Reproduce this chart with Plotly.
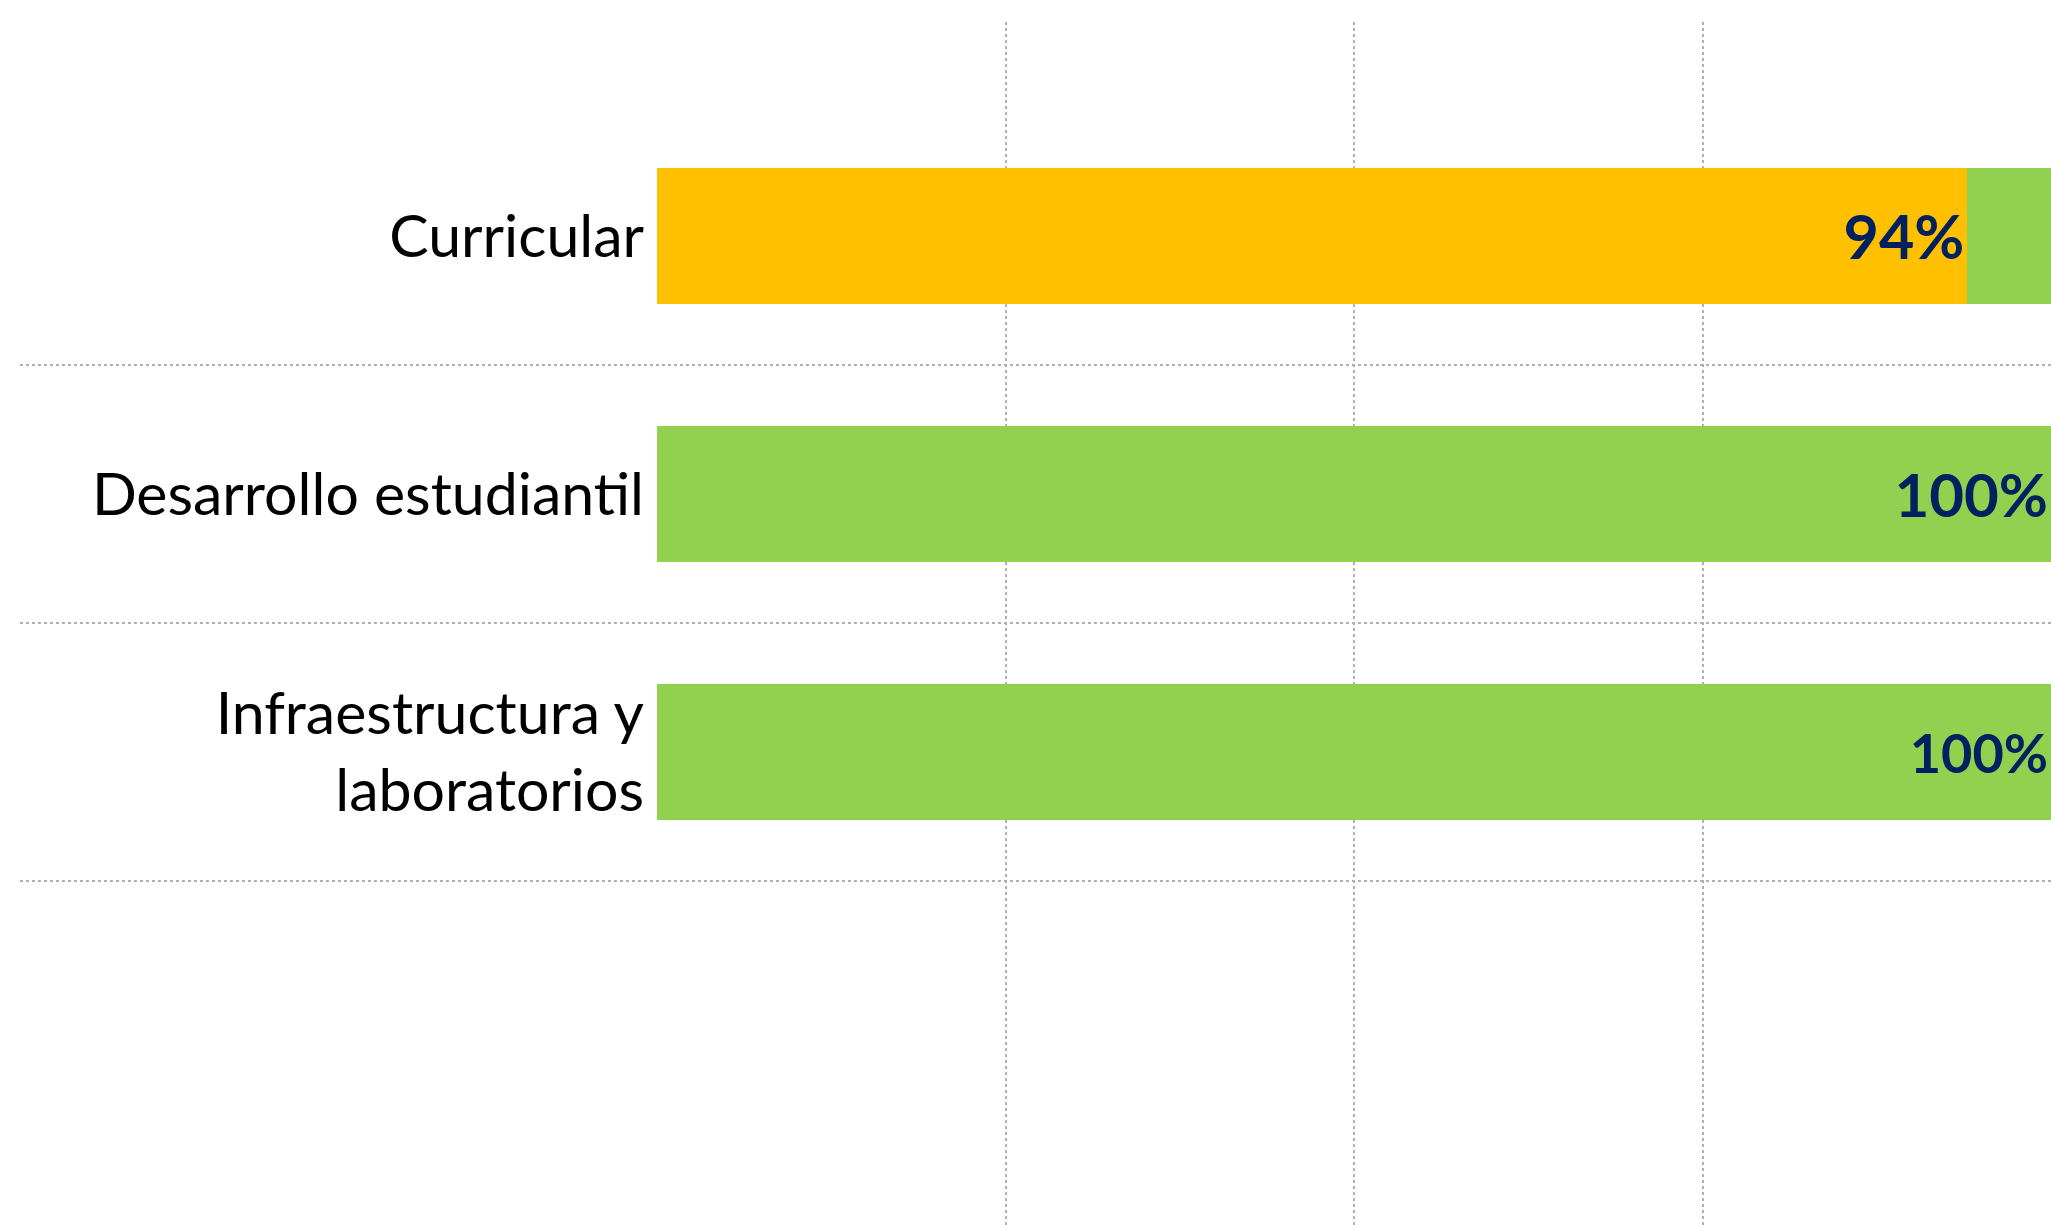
import plotly.graph_objects as go

categories = ["Curricular", "Desarrollo estudiantil", "Infraestructura y<br>laboratorios"]
pct_main = [94, 0, 0]        # orange segment
pct_rest = [6, 100, 100]     # green segment
labels_main = ["94%", "", ""]
labels_rest = ["", "100%", "100%"]
grid_ticks = [25, 50, 75]

label_sizes = [61, 60, 54]
navy = "#002060"

fig = go.Figure()
fig.add_trace(go.Bar(
    y=categories, x=pct_main, orientation="h",
    marker=dict(color="#FFC000", line=dict(width=0)),
    text=labels_main, textposition="inside", insidetextanchor="end",
    textfont=dict(family="Lato", size=label_sizes, color=navy, weight="bold"),
    constraintext="none", hoverinfo="skip",
))
fig.add_trace(go.Bar(
    y=categories, x=pct_rest, orientation="h",
    marker=dict(color="#92D050", line=dict(width=0)),
    text=labels_rest, textposition="inside", insidetextanchor="end",
    textfont=dict(family="Lato", size=label_sizes, color=navy, weight="bold"),
    constraintext="none", hoverinfo="skip",
))

shapes = []
for i in range(len(categories)):
    shapes.append(dict(type="line", xref="paper", yref="y",
                       x0=-0.457, x1=1, y0=i + 0.5, y1=i + 0.5,
                       line=dict(color="#AFAFAF", width=2, dash="dot"), layer="below"))

fig.update_layout(
    width=2051, height=1225,
    margin=dict(l=657, r=0, t=22, b=0),
    paper_bgcolor="white", plot_bgcolor="white",
    barmode="stack", bargap=0.47, showlegend=False,
    shapes=shapes,
    xaxis=dict(range=[0, 100], tickvals=grid_ticks, showticklabels=False,
               showgrid=True, gridcolor="#AFAFAF", gridwidth=2, griddash="dot",
               zeroline=False, showline=False, ticks="", fixedrange=True),
    yaxis=dict(range=[3.833, -0.829], showgrid=False, zeroline=False, showline=False,
               ticks="", ticklabelstandoff=12,
               tickfont=dict(family="Lato", size=59, color="black"), fixedrange=True),
)

fig.write_html(
    "out.html",
    config={"displayModeBar": False, "staticPlot": True},
    post_script="document.body.style.margin='0';document.body.style.overflow='hidden';",
)
